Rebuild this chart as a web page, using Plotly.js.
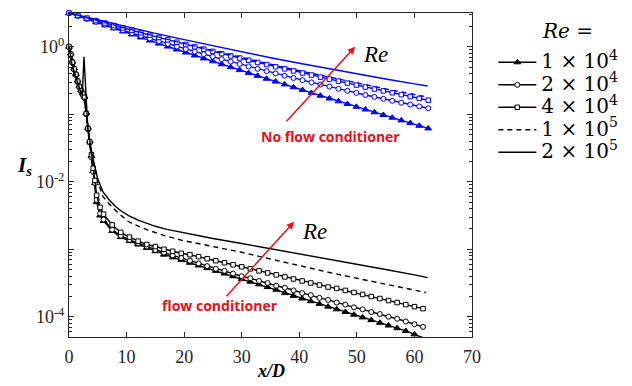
<!DOCTYPE html>
<html>
<head>
<meta charset="utf-8">
<script src="https://cdn.plot.ly/plotly-3.0.1.min.js"></script>
<style>html,body{margin:0;padding:0;background:#fff;}#chart{width:632px;height:386px;}</style>
</head>
<body>
<div id="chart"></div>
<script>
// ---- Data (I_s stored as log10 values) ----
// Legend labels
var reLabels = ['1 × 10<sup>4</sup>', '2 × 10<sup>4</sup>', '4 × 10<sup>4</sup>', '1 × 10<sup>5</sup>', '2 × 10<sup>5</sup>'];

// With flow conditioner (black)
var xBlackMarked = [0,0.3,0.6,0.9,1.2,1.5,1.8,2.1,2.4,2.7,3,3.3,3.6,3.9,4.2,4.5,4.8,5.4,6,7.5,9,10.5,12,13.5,15,16.5,18,19.5,21,22.5,24,25.5,27,28.5,30,31.5,33,34.5,36,37.5,39,40.5,42,43.5,45,46.5,48,49.5,51,52.5,54,55.5,57,58.5,60,61.5];
var logFC_Re1e4 = [0.00,-0.10,-0.22,-0.32,-0.40,-0.50,-0.58,-0.64,-0.69,-0.74,-0.98,-1.20,-1.40,-1.62,-1.84,-2.02,-2.30,-2.50,-2.58,-2.73,-2.82,-2.88,-2.93,-2.98,-3.03,-3.08,-3.12,-3.16,-3.20,-3.24,-3.28,-3.32,-3.36,-3.40,-3.44,-3.48,-3.52,-3.56,-3.60,-3.65,-3.69,-3.73,-3.77,-3.81,-3.85,-3.89,-3.93,-3.97,-4.01,-4.05,-4.09,-4.13,-4.17,-4.21,-4.26,-4.31];
var logFC_Re2e4 = [0.00,-0.12,-0.24,-0.34,-0.42,-0.52,-0.60,-0.66,-0.71,-0.76,-1.00,-1.22,-1.42,-1.64,-1.85,-2.02,-2.27,-2.47,-2.56,-2.71,-2.80,-2.86,-2.91,-2.96,-3.01,-3.05,-3.09,-3.13,-3.17,-3.21,-3.25,-3.29,-3.32,-3.36,-3.40,-3.43,-3.47,-3.50,-3.54,-3.57,-3.61,-3.65,-3.68,-3.72,-3.75,-3.79,-3.82,-3.86,-3.89,-3.93,-3.96,-4.00,-4.03,-4.07,-4.11,-4.15];
var logFC_Re4e4 = [0.00,-0.11,-0.23,-0.33,-0.41,-0.51,-0.59,-0.65,-0.70,-0.75,-0.99,-1.21,-1.41,-1.60,-1.80,-1.98,-2.20,-2.38,-2.48,-2.64,-2.75,-2.82,-2.88,-2.93,-2.96,-3.00,-3.03,-3.06,-3.08,-3.11,-3.14,-3.17,-3.20,-3.23,-3.26,-3.29,-3.32,-3.35,-3.38,-3.41,-3.44,-3.47,-3.50,-3.53,-3.56,-3.58,-3.61,-3.64,-3.67,-3.70,-3.73,-3.76,-3.79,-3.82,-3.85,-3.88];
var xFC_Re1e5 = [0,0.5,1,1.5,2,2.5,3,3.5,4.2,4.6,5.2,5.9,7,8.5,10.5,13.5,16.5,19.5,22.5,25,30,35,40,45,50,55,60,62];
var logFC_Re1e5 = [0,-0.25,-0.40,-0.55,-0.65,-0.72,-1.00,-1.40,-1.75,-1.87,-2.05,-2.22,-2.33,-2.46,-2.60,-2.71,-2.795,-2.865,-2.915,-2.955,-3.045,-3.145,-3.245,-3.34,-3.43,-3.52,-3.61,-3.64];
var xFC_Re2e5 = [0,0.5,1,1.5,2,2.3,2.6,3.3,3.8,4.2,5,5.9,7,8,9,10.5,12,13.5,15,17,19.5,22.5,25,30,35,40,45,50,55,60,62.3];
var logFC_Re2e5 = [0,-0.25,-0.40,-0.55,-0.66,-0.72,-0.15,-1.25,-1.50,-1.67,-1.96,-2.15,-2.27,-2.36,-2.43,-2.51,-2.57,-2.62,-2.66,-2.705,-2.75,-2.80,-2.84,-2.915,-2.99,-3.065,-3.14,-3.22,-3.30,-3.38,-3.42];

// No flow conditioner (blue)
var xBlueMarked = [0,1.56,3.12,4.68,6.24,7.8,9.36,10.92,12.48,14.04,15.6,17.16,18.72,20.28,21.84,23.4,24.96,26.52,28.08,29.64,31.2,32.76,34.32,35.88,37.44,39,40.56,42.12,43.68,45.24,46.8,48.36,49.92,51.48,53.04,54.6,56.16,57.72,59.28,60.84,62.4];
var logNC_Re1e4 = [0.5,0.454,0.408,0.362,0.317,0.272,0.226,0.181,0.137,0.092,0.047,0.003,-0.041,-0.085,-0.129,-0.173,-0.216,-0.260,-0.303,-0.346,-0.389,-0.431,-0.474,-0.516,-0.558,-0.600,-0.642,-0.684,-0.725,-0.767,-0.808,-0.849,-0.890,-0.930,-0.971,-1.011,-1.051,-1.091,-1.131,-1.171,-1.210];
var logNC_Re2e4 = [0.5,0.456,0.413,0.370,0.328,0.286,0.244,0.203,0.163,0.123,0.083,0.043,0.004,-0.034,-0.072,-0.110,-0.147,-0.184,-0.220,-0.256,-0.292,-0.327,-0.361,-0.395,-0.429,-0.462,-0.495,-0.528,-0.560,-0.591,-0.623,-0.653,-0.684,-0.714,-0.743,-0.772,-0.801,-0.829,-0.857,-0.884,-0.911];
var logNC_Re4e4 = [0.5,0.462,0.425,0.388,0.351,0.315,0.279,0.243,0.207,0.172,0.137,0.102,0.067,0.033,-0.001,-0.035,-0.069,-0.102,-0.135,-0.167,-0.200,-0.232,-0.264,-0.296,-0.327,-0.358,-0.389,-0.419,-0.450,-0.480,-0.509,-0.539,-0.568,-0.597,-0.626,-0.654,-0.682,-0.710,-0.738,-0.765,-0.792];
var xNC_Re1e5 = [0,5,10,15,20,25,30,35,40,45,50,55,60,62.4];
var logNC_Re1e5 = [0.5,0.382,0.267,0.156,0.047,-0.058,-0.160,-0.260,-0.356,-0.448,-0.538,-0.625,-0.708,-0.747];
var xNC_Re2e5 = [0,5,10,15,20,25,30,35,40,45,50,55,60,62.3];
var logNC_Re2e5 = [0.5,0.397,0.297,0.199,0.105,0.013,-0.076,-0.162,-0.245,-0.326,-0.403,-0.478,-0.550,-0.582];

// ---- Build traces ----
function pow10(a){ return a.map(function(v){ return Math.pow(10, v); }); }
var BLUE = '#0000ff', BLACK = '#000000', RED = '#e8101a';
var legendSpan = 'font-family:DejaVu Serif;font-size:20px';

function tr(x, ly, color, sym, dash, name, show, mfill){
  var t = {
    type:'scatter', x:x, y:pow10(ly), name:'<span style="'+legendSpan+'">'+name+'</span>',
    showlegend:show, cliponaxis:false, hoverinfo:'skip',
    line:{color:color, width:1.4, dash:dash||'solid'},
    mode: sym ? 'lines+markers' : 'lines'
  };
  if(sym){
    t.marker = {symbol:sym, size: sym==='triangle-up'?6:(sym==='circle'?5:4.5),
      color: mfill, line:{color:color, width:1}};
  }
  return t;
}

var data = [
  tr(xBlueMarked, logNC_Re1e4, BLUE, 'triangle-up', null, reLabels[0], false, BLUE),
  tr(xBlueMarked, logNC_Re2e4, BLUE, 'circle', null, reLabels[1], false, '#ffffff'),
  tr(xBlueMarked, logNC_Re4e4, BLUE, 'square', null, reLabels[2], false, '#ffffff'),
  tr(xNC_Re1e5, logNC_Re1e5, BLUE, null, '5px,4px', reLabels[3], false),
  tr(xNC_Re2e5, logNC_Re2e5, BLUE, null, null, reLabels[4], false),
  tr(xBlackMarked, logFC_Re1e4, BLACK, 'triangle-up', null, reLabels[0], true, BLACK),
  tr(xBlackMarked, logFC_Re2e4, BLACK, 'circle', null, reLabels[1], true, '#ffffff'),
  tr(xBlackMarked, logFC_Re4e4, BLACK, 'square', null, reLabels[2], true, '#ffffff'),
  tr(xFC_Re1e5, logFC_Re1e5, BLACK, null, '5px,4px', reLabels[3], true),
  tr(xFC_Re2e5, logFC_Re2e5, BLACK, null, null, reLabels[4], true)
];

var AX = '#262626';
var tickFont = {family:'Liberation Serif, Times New Roman, serif', size:18, color:AX};

var layout = {
  width:632, height:386,
  margin:{l:69, r:160, t:13, b:49, autoexpand:false},
  paper_bgcolor:'#ffffff', plot_bgcolor:'#ffffff',
  showlegend:true,
  legend:{x:1.053, xanchor:'left', y:0.898, yanchor:'top', bgcolor:'rgba(0,0,0,0)',
    font:{family:'DejaVu Serif, serif', size:15, color:'#000'}, tracegroupgap:0, itemwidth:38},
  xaxis:{range:[0,70], tick0:0, dtick:10, ticks:'inside', ticklen:5, tickcolor:AX,
    mirror:'ticks', showline:true, linecolor:AX, linewidth:1, showgrid:false, zeroline:false,
    tickfont:tickFont, ticklabelstandoff:3},
  yaxis:{type:'log', range:[-4.3,0.5], tickvals:[1e-4,1e-3,1e-2,1e-1,1],
    ticktext:['10<sup>-4</sup>','','10<sup>-2</sup>','','10<sup>0</sup>'],
    ticks:'inside', ticklen:5, tickcolor:AX, mirror:'ticks', showline:true, linecolor:AX, linewidth:1,
    showgrid:false, zeroline:false, tickfont:tickFont,
    minor:{ticks:'inside', ticklen:3, tickcolor:AX, dtick:'D1', showgrid:false}},
  annotations:[
    {xref:'paper', yref:'paper', x:0.5, xanchor:'center', y:-0.105, yanchor:'middle', text:'<b><i>x/D</i></b>', showarrow:false,
      font:{family:'Liberation Serif, serif', size:18, color:'#000'}},
    {xref:'paper', yref:'paper', x:-0.134, xanchor:'left', y:0.528, yanchor:'middle', text:'<b><i>I<sub>s</sub></i></b>', showarrow:false,
      font:{family:'Liberation Serif, serif', size:21, color:'#000'}},
    {xref:'paper', yref:'paper', x:1.169, xanchor:'left', y:0.944, yanchor:'middle', text:'<i>Re</i> =', showarrow:false,
      font:{family:'DejaVu Serif, serif', size:20, color:'#000'}},
    // arrows
    {xref:'x', yref:'y', x:49.7, y:0, ax:-70, ay:76, text:'', showarrow:true,
      arrowhead:2, arrowsize:1, arrowwidth:1.5, arrowcolor:RED, standoff:0},
    {xref:'x', yref:'y', x:39.1, y:-2.593, ax:-69, ay:76, text:'', showarrow:true,
      arrowhead:2, arrowsize:1, arrowwidth:1.5, arrowcolor:RED, standoff:0},
    {xref:'x', yref:'y', x:45.5, y:-1.333, text:'<b>No flow conditioner</b>', showarrow:false,
      font:{family:'Open Sans, Noto Sans, sans-serif', size:14, color:RED}},
    {xref:'x', yref:'y', x:26.2, y:-3.837, text:'<b>flow conditioner</b>', showarrow:false,
      font:{family:'Open Sans, Noto Sans, sans-serif', size:14, color:RED}},
    {xref:'x', yref:'y', x:53.3, y:-0.119, text:'<i>Re</i>', showarrow:false,
      font:{family:'Liberation Serif, serif', size:23, color:'#000'}},
    {xref:'x', yref:'y', x:42.7, y:-2.74, text:'<i>Re</i>', showarrow:false,
      font:{family:'Liberation Serif, serif', size:23, color:'#000'}}
  ]
};

Plotly.newPlot('chart', data, layout, {staticPlot:true, displayModeBar:false});
</script>
</body>
</html>
